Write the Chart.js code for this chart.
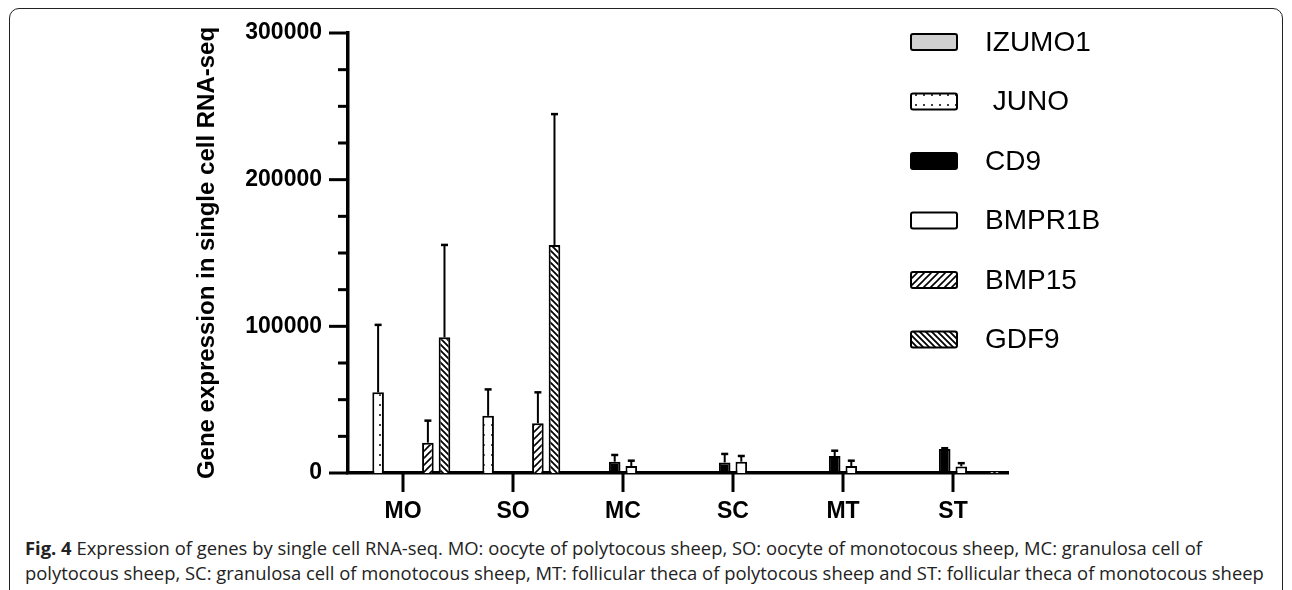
<!DOCTYPE html>
<html>
<head>
<meta charset="utf-8">
<script src="https://cdn.jsdelivr.net/npm/chart.js@4.4.1/dist/chart.umd.min.js"></script>
<style>
  body { margin: 0; background: #fff; width: 1292px; height: 590px; overflow: hidden; position: relative; }
  #frame { position: absolute; left: 9px; top: 8px; width: 1272px; height: 590px; border: 1.5px solid #222; border-radius: 10px; }
  #chart { position: absolute; left: 0; top: 0; }
  #caption { position: absolute; left: 25px; top: 535px; font-family: "Open Sans", sans-serif; font-size: 18.4px; line-height: 25px; color: #222; white-space: nowrap; }
</style>
</head>
<body>
<div id="frame"></div>
<canvas id="chart" width="1292" height="530"></canvas>
<div id="caption"><b>Fig. 4</b> Expression of genes by single cell RNA-seq. MO: oocyte of polytocous sheep, SO: oocyte of monotocous sheep, MC: granulosa cell of<br>polytocous sheep, SC: granulosa cell of monotocous sheep, MT: follicular theca of polytocous sheep and ST: follicular theca of monotocous sheep</div>
<script>
const categories = ["MO", "SO", "MC", "SC", "MT", "ST"];
const geneLabels = ["IZUMO1", " JUNO", "CD9", "BMPR1B", "BMP15", "GDF9"];

// bar heights (mean)
const izumo1 = [0, 0, 0, 0, 0, 0];
const juno = [55000, 39000, 0, 0, 0, 0];
const cd9 = [0, 0, 7700, 7200, 11600, 16400];
const bmpr1b = [0, 0, 4800, 7700, 4800, 4500];
const bmp15 = [20700, 33900, 0, 0, 0, 0];
const gdf9 = [92500, 155500, 0, 0, 0, 1000];

// top of each error bar (mean + SD)
const izumo1Err = [0, 0, 0, 0, 0, 0];
const junoErr = [101000, 57000, 0, 0, 0, 0];
const cd9Err = [0, 0, 12300, 13000, 15200, 16900];
const bmpr1bErr = [0, 0, 8400, 11600, 8400, 6700];
const bmp15Err = [35700, 55000, 0, 0, 0, 0];
const gdf9Err = [155500, 244700, 0, 0, 0, 0];

const yMajorTicks = [0, 100000, 200000, 300000];

function makePattern(w, h, draw) {
  const c = document.createElement("canvas");
  c.width = w;
  c.height = h;
  const g = c.getContext("2d");
  g.fillStyle = "#fff";
  g.fillRect(0, 0, w, h);
  draw(g);
  return g.createPattern(c, "repeat");
}

const dots = makePattern(8, 10, (g) => {
  g.fillStyle = "#000";
  g.beginPath();
  g.arc(4, 5, 1, 0, Math.PI * 2);
  g.fill();
});

const hatchUp = makePattern(7, 7, (g) => {
  g.strokeStyle = "#000";
  g.lineWidth = 1.6;
  g.beginPath();
  g.moveTo(-1, 8); g.lineTo(8, -1);
  g.moveTo(-1, 1); g.lineTo(1, -1);
  g.moveTo(6, 8); g.lineTo(8, 6);
  g.stroke();
});

const hatchDown = makePattern(6, 6, (g) => {
  g.strokeStyle = "#000";
  g.lineWidth = 1.8;
  g.beginPath();
  g.moveTo(-1, -1); g.lineTo(7, 7);
  g.moveTo(5, -1); g.lineTo(7, 1);
  g.moveTo(-1, 5); g.lineTo(1, 7);
  g.stroke();
});

const fills = ["#d0d0d0", dots, "#000", "#fff", hatchUp, hatchDown];
const series = [izumo1, juno, cd9, bmpr1b, bmp15, gdf9];
const errors = [izumo1Err, junoErr, cd9Err, bmpr1bErr, bmp15Err, gdf9Err];

const axisTicks = {
  id: "axisTicks",
  afterDraw(chart) {
    const { ctx, chartArea, scales: { x, y } } = chart;
    ctx.save();
    ctx.strokeStyle = "#000";
    ctx.lineWidth = 3;
    y.ticks.forEach((t) => {
      const py = y.getPixelForValue(t.value);
      const len = yMajorTicks.includes(t.value) ? 19 : 10;
      ctx.beginPath();
      ctx.moveTo(chartArea.left - len, py);
      ctx.lineTo(chartArea.left, py);
      ctx.stroke();
    });
    categories.forEach((c, i) => {
      const px = x.getPixelForTick(i);
      ctx.beginPath();
      ctx.moveTo(px, chartArea.bottom);
      ctx.lineTo(px, chartArea.bottom + 19);
      ctx.stroke();
    });
    ctx.restore();
  },
};

const errorBars = {
  id: "errorBars",
  afterDatasetsDraw(chart) {
    const { ctx, scales: { y } } = chart;
    ctx.save();
    ctx.strokeStyle = "#000";
    errors.forEach((errs, i) => {
      const meta = chart.getDatasetMeta(i);
      errs.forEach((e, j) => {
        if (e <= series[i][j]) return;
        const bar = meta.data[j];
        const top = y.getPixelForValue(e);
        ctx.lineWidth = 2;
        ctx.beginPath();
        ctx.moveTo(bar.x, bar.y);
        ctx.lineTo(bar.x, top);
        ctx.stroke();
        ctx.lineWidth = 2.5;
        ctx.beginPath();
        ctx.moveTo(bar.x - 3.5, top);
        ctx.lineTo(bar.x + 3.5, top);
        ctx.stroke();
      });
    });
    ctx.restore();
  },
};

const sideLegend = {
  id: "sideLegend",
  afterDraw(chart) {
    const { ctx } = chart;
    ctx.save();
    chart.data.datasets.forEach((ds, i) => {
      const cy = 42 + i * 59.5;
      ctx.fillStyle = ds.backgroundColor;
      ctx.strokeStyle = "#000";
      ctx.lineWidth = 2;
      ctx.beginPath();
      ctx.roundRect(911, cy - 8, 46, 16, 2);
      ctx.fill();
      ctx.stroke();
      ctx.fillStyle = "#000";
      ctx.font = "28px 'Liberation Sans', Arial";
      ctx.textBaseline = "middle";
      ctx.fillText(ds.label, 985, cy + 1);
    });
    ctx.restore();
  },
};

new Chart(document.getElementById("chart"), {
  type: "bar",
  data: {
    labels: categories,
    datasets: series.map((vals, i) => ({
      label: geneLabels[i],
      data: vals,
      backgroundColor: fills[i],
      borderColor: "#000",
      borderWidth: 2,
      categoryPercentage: 0.905,
      barPercentage: 0.7,
    })),
  },
  options: {
    responsive: false,
    devicePixelRatio: 1,
    animation: false,
    layout: {
      padding: { left: 190, top: 33, right: 284, bottom: 0 },
    },
    plugins: {
      legend: { display: false },
      tooltip: { enabled: false },
    },
    scales: {
      x: {
        grid: { display: false },
        border: { display: true, color: "#000", width: 3.5 },
        ticks: {
          color: "#000",
          padding: 17,
          font: { family: "'Liberation Sans', Arial", size: 23, weight: "bold" },
        },
        afterFit(scale) {
          scale.height = 57;
        },
      },
      y: {
        min: 0,
        max: 300000,
        grid: { display: false },
        border: { display: true, color: "#000", width: 3.5 },
        ticks: {
          stepSize: 25000,
          color: "#000",
          padding: 18,
          autoSkip: false,
          font: { family: "'Liberation Sans', Arial", size: 23, weight: "bold" },
          callback: (v) => (yMajorTicks.includes(v) ? String(v) : ""),
        },
        title: {
          display: true,
          text: "Gene expression in single cell RNA-seq",
          color: "#000",
          padding: { top: 3, bottom: 0 },
          font: { family: "'Liberation Sans', Arial", size: 24, weight: "bold" },
        },
        afterFit(scale) {
          scale.width = 158;
        },
      },
    },
  },
  plugins: [axisTicks, errorBars, sideLegend],
});
</script>
</body>
</html>
